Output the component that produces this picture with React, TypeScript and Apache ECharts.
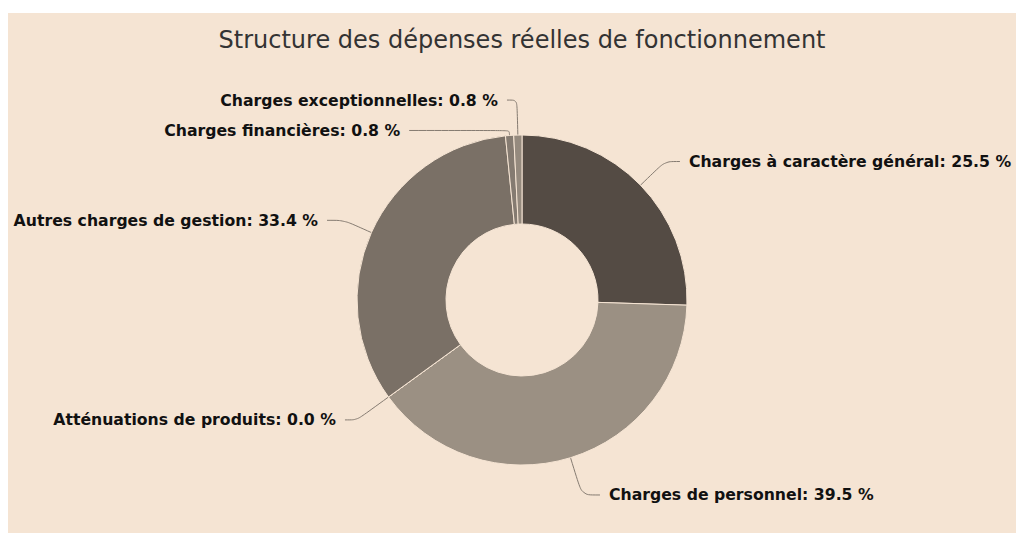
import React, { useEffect, useRef } from "react";
import * as echarts from "echarts";

const titleText = "Structure des dépenses réelles de fonctionnement";
const categories = [
  "Charges à caractère général",
  "Charges de personnel",
  "Atténuations de produits",
  "Autres charges de gestion",
  "Charges financières",
  "Charges exceptionnelles",
];
const percentages = [25.5, 39.5, 0.0, 33.4, 0.8, 0.8];
const colors = ["#544b44", "#9b9083", "#b5aa9d", "#7a7066", "#857b71", "#958a7e"];
const lineLengths = [34, 39, 39, 30, 5, 35];
const lineLengths2 = [15, 18, 12, 17, 100, 10];

export default function App() {
  const ref = useRef<HTMLDivElement>(null);
  useEffect(() => {
    if (!ref.current) return;
    const chart = echarts.init(ref.current, undefined, { renderer: "svg" });
    chart.setOption({
      animation: false,
      backgroundColor: "#f5e4d3",
      title: {
        text: titleText,
        left: "center",
        top: 10,
        textStyle: {
          fontFamily: "DejaVu Sans",
          fontSize: 24,
          fontWeight: "normal",
          color: "#333333",
        },
      },
      series: [
        {
          type: "pie",
          center: [514, 287],
          radius: [76, 165],
          startAngle: 90,
          clockwise: true,
          avoidLabelOverlap: false,
          itemStyle: { borderColor: "#f5e4d3", borderWidth: 1 },
          label: {
            show: true,
            fontFamily: "DejaVu Sans",
            fontSize: 15.7,
            fontWeight: "bold",
            color: "#111111",
            distanceToLabelLine: 9,
            formatter: (p: any) => `${p.name}: ${Number(p.value).toFixed(1)} %`,
          },
          labelLine: {
            show: true,
            smooth: true,
            lineStyle: { color: "#857b71", width: 1 },
          },
          data: categories.map((name, i) => ({
            name,
            value: percentages[i],
            itemStyle: { color: colors[i] },
            labelLine: { length: lineLengths[i], length2: lineLengths2[i] },
          })),
        },
      ],
    });
    return () => chart.dispose();
  }, []);
  return (
    <div style={{ paddingTop: 5, width: 1016, overflow: "hidden" }}>
      <div ref={ref} style={{ width: 1028, height: 520 }} />
    </div>
  );
}
